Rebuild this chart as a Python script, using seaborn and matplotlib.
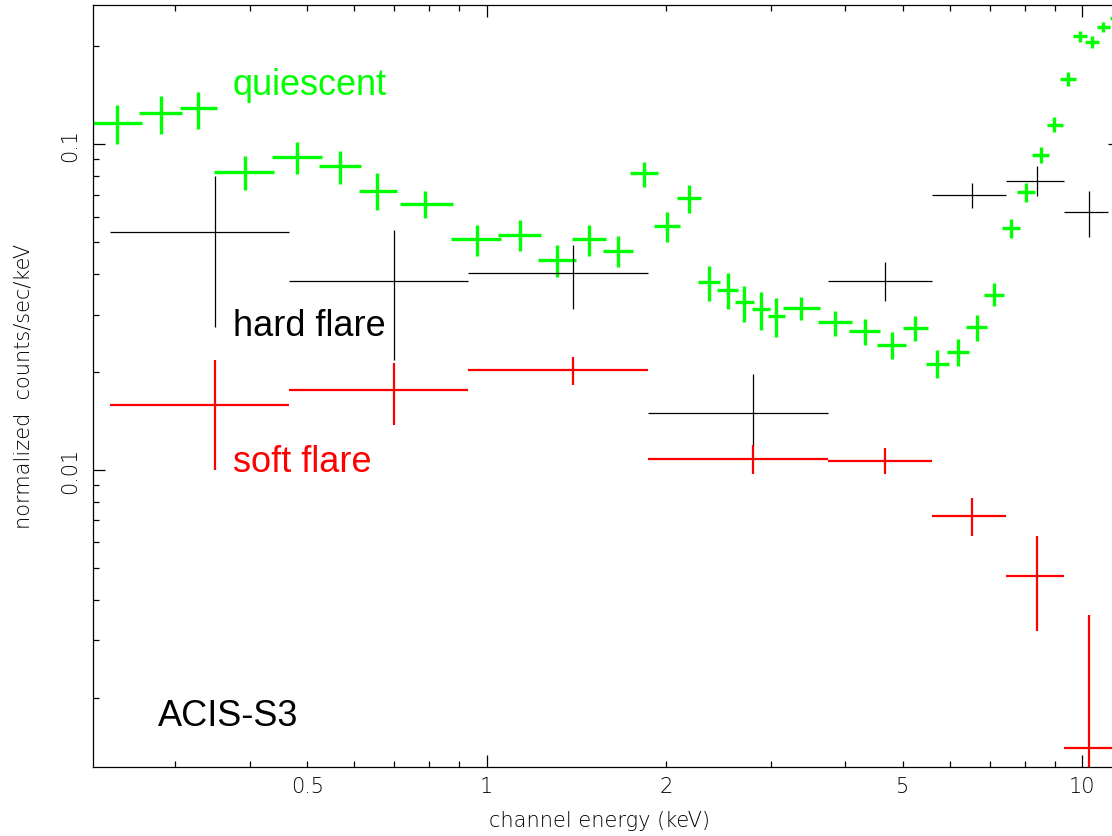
import numpy as np
import pandas as pd
import matplotlib
matplotlib.use('Agg')
import matplotlib.pyplot as plt
import seaborn as sns
from matplotlib.ticker import FixedLocator, FuncFormatter, NullFormatter

# quiescent spectrum (green): bin centre, bin edges, rate and its error range
q_energy = [0.240, 0.284, 0.3275, 0.393, 0.480, 0.567, 0.654, 0.788, 0.962, 1.137,
            1.311, 1.487, 1.663, 1.837, 2.010, 2.186, 2.362, 2.539, 2.707, 2.887,
            3.060, 3.371, 3.845, 4.317, 4.786, 5.237, 5.708, 6.177, 6.647, 7.117,
            7.582, 8.045, 8.515, 8.974, 9.452, 9.911, 10.39, 10.85, 11.35]
q_elo = [0.215, 0.261, 0.3055, 0.348, 0.436, 0.523, 0.610, 0.715, 0.871, 1.045,
         1.219, 1.391, 1.568, 1.740, 1.910, 2.087, 2.264, 2.436, 2.612, 2.789,
         2.967, 3.144, 3.599, 4.059, 4.522, 5.000, 5.466, 5.927, 6.378, 6.839,
         7.332, 7.770, 8.232, 8.724, 9.175, 9.647, 10.10, 10.59, 11.13]
q_ehi = [0.264, 0.308, 0.3525, 0.439, 0.529, 0.615, 0.707, 0.878, 1.057, 1.234,
         1.413, 1.586, 1.760, 1.939, 2.111, 2.290, 2.464, 2.642, 2.811, 2.990,
         3.168, 3.628, 4.106, 4.574, 5.058, 5.507, 5.973, 6.454, 6.918, 7.388,
         7.860, 8.329, 8.792, 9.281, 9.759, 10.18, 10.67, 11.13, 11.60]
q_rate = [0.1162, 0.1245, 0.1290, 0.0824, 0.0914, 0.0856, 0.0720, 0.0656, 0.0512, 0.0527,
          0.0441, 0.0512, 0.0471, 0.0815, 0.0560, 0.0683, 0.0377, 0.0356, 0.0327, 0.0311,
          0.0296, 0.0314, 0.0284, 0.0267, 0.0242, 0.0272, 0.0212, 0.0231, 0.0274, 0.0345,
          0.0552, 0.0712, 0.0929, 0.1149, 0.1586, 0.2146, 0.2065, 0.2287, 0.2450]
q_rlo = [0.1002, 0.1076, 0.1114, 0.0724, 0.0811, 0.0755, 0.0629, 0.0593, 0.0455, 0.0470,
         0.0391, 0.0455, 0.0419, 0.0741, 0.0502, 0.0615, 0.0330, 0.0311, 0.0284, 0.0269,
         0.0256, 0.0289, 0.0258, 0.0242, 0.0219, 0.0248, 0.0191, 0.0209, 0.0249, 0.0318,
         0.0514, 0.0666, 0.0876, 0.1089, 0.1513, 0.2057, 0.1980, 0.2207, 0.2360]
q_rhi = [0.1320, 0.1410, 0.1450, 0.0921, 0.1016, 0.0954, 0.0816, 0.0720, 0.0566, 0.0586,
         0.0492, 0.0566, 0.0524, 0.0884, 0.0621, 0.0750, 0.0422, 0.0402, 0.0368, 0.0353,
         0.0337, 0.0340, 0.0308, 0.0291, 0.0265, 0.0296, 0.0234, 0.0252, 0.0299, 0.0374,
         0.0590, 0.0759, 0.0983, 0.1210, 0.1664, 0.2233, 0.2146, 0.2379, 0.2540]

# hard flare (black)
hard_energy = [0.350, 0.700, 1.398, 2.796, 4.664, 6.535, 8.404, 10.26, 12.2]
hard_elo = [0.233, 0.466, 0.932, 1.866, 3.741, 5.604, 7.459, 9.335, 11.05]
hard_ehi = [0.466, 0.932, 1.866, 3.741, 5.604, 7.459, 9.335, 11.05, 13.5]
hard_rate = [0.0537, 0.0381, 0.0402, 0.01496, 0.0381, 0.0699, 0.0773, 0.0618, 0.100]
hard_rlo = [0.0274, 0.0217, 0.0312, 0.01193, 0.0331, 0.0636, 0.0692, 0.0518, 0.090]
hard_rhi = [0.0801, 0.0546, 0.0492, 0.0197, 0.0434, 0.0760, 0.0856, 0.0717, 0.111]

# soft flare (red)
soft_energy = [0.350, 0.700, 1.398, 2.796, 4.664, 6.535, 8.404, 10.26]
soft_elo = [0.233, 0.466, 0.932, 1.866, 3.741, 5.604, 7.459, 9.335]
soft_ehi = [0.466, 0.932, 1.866, 3.741, 5.604, 7.459, 9.335, 11.3]
soft_rate = [0.01584, 0.01754, 0.0203, 0.01081, 0.01068, 0.00724, 0.00474, 0.001398]
soft_rlo = [0.0100, 0.01374, 0.01824, 0.00972, 0.00972, 0.00626, 0.00321, 0.0005]
soft_rhi = [0.0217, 0.0213, 0.0223, 0.01196, 0.01166, 0.00820, 0.00628, 0.00359]

x_major = [1, 10]
x_minor = [0.3, 0.4, 0.5, 0.6, 0.7, 0.8, 0.9, 2, 3, 4, 5, 6, 7, 8, 9]
x_minor_labelled = {0.5: '0.5', 2: '2', 5: '5'}
y_major = [0.01, 0.1]
y_minor = [0.002, 0.003, 0.004, 0.005, 0.006, 0.007, 0.008, 0.009,
           0.02, 0.03, 0.04, 0.05, 0.06, 0.07, 0.08, 0.09, 0.2]

sns.set_theme(style='ticks')
plt.rcParams['font.family'] = ['DejaVu Sans']
plt.rcParams['font.weight'] = 'light'

series = [
    (q_energy, q_elo, q_ehi, q_rate, q_rlo, q_rhi, '#00ff00', 2.4),
    (hard_energy, hard_elo, hard_ehi, hard_rate, hard_rlo, hard_rhi, 'black', 0.9),
    (soft_energy, soft_elo, soft_ehi, soft_rate, soft_rlo, soft_rhi, '#ff0000', 1.6),
]

fig = plt.figure(figsize=(11.12, 8.37), dpi=100)
ax = fig.add_axes([0.0836, 0.0828, 0.9164, 0.9104])

for e, elo, ehi, r, rlo, rhi, col, lw in series:
    df = pd.DataFrame({'e': e, 'elo': elo, 'ehi': ehi, 'r': r, 'rlo': rlo, 'rhi': rhi})
    ax.errorbar(df['e'], df['r'],
                xerr=[df['e'] - df['elo'], df['ehi'] - df['e']],
                yerr=[df['r'] - df['rlo'], df['rhi'] - df['r']],
                fmt='none', ecolor=col, elinewidth=lw, capsize=0)

ax.set_xscale('log')
ax.set_yscale('log')
ax.set_xlim(0.2183, 11.22)
ax.set_ylim(0.001227, 0.2683)

ax.xaxis.set_major_locator(FixedLocator(x_major))
ax.xaxis.set_minor_locator(FixedLocator(x_minor))
ax.xaxis.set_major_formatter(FuncFormatter(lambda v, p: '%g' % v))
ax.xaxis.set_minor_formatter(FuncFormatter(lambda v, p: x_minor_labelled.get(round(v, 2), '')))
ax.yaxis.set_major_locator(FixedLocator(y_major))
ax.yaxis.set_minor_locator(FixedLocator(y_minor))
ax.yaxis.set_major_formatter(FuncFormatter(lambda v, p: '%g' % v))
ax.yaxis.set_minor_formatter(NullFormatter())

ax.tick_params(which='both', direction='in', top=True, right=False, color='black',
               width=0.9, labelsize=15, labelcolor='black')
ax.tick_params(which='major', length=8.4)
ax.tick_params(which='minor', length=4.1)
ax.tick_params(axis='x', which='both', pad=7)
ax.tick_params(axis='y', which='both', pad=9)
plt.setp(ax.get_yticklabels(), rotation=90, va='center')

sns.despine(ax=ax, top=False, right=True)
for s in ['left', 'bottom', 'top']:
    ax.spines[s].set_color('black')
    ax.spines[s].set_linewidth(0.9)

ax.set_xlabel('channel energy (keV)', fontsize=15, color='black', fontweight='light')
ax.set_ylabel('normalized  counts/sec/keV', fontsize=15, color='black', fontweight='light')
ax.xaxis.set_label_coords(0.4975, -0.0568)
ax.yaxis.set_label_coords(-0.0579, 0.5)

lab_font = ['Liberation Sans', 'DejaVu Sans']
ax.text(0.375, 0.1427, 'quiescent', color='#00ff00', fontsize=26, family=lab_font, weight='normal')
ax.text(0.375, 0.0260, 'hard flare', color='black', fontsize=26, family=lab_font, weight='normal')
ax.text(0.375, 0.00995, 'soft flare', color='#ff0000', fontsize=26, family=lab_font, weight='normal')
ax.text(0.2806, 0.00165, 'ACIS-S3', color='black', fontsize=26, family=lab_font, weight='normal')

fig.savefig('out.png', dpi=100)
